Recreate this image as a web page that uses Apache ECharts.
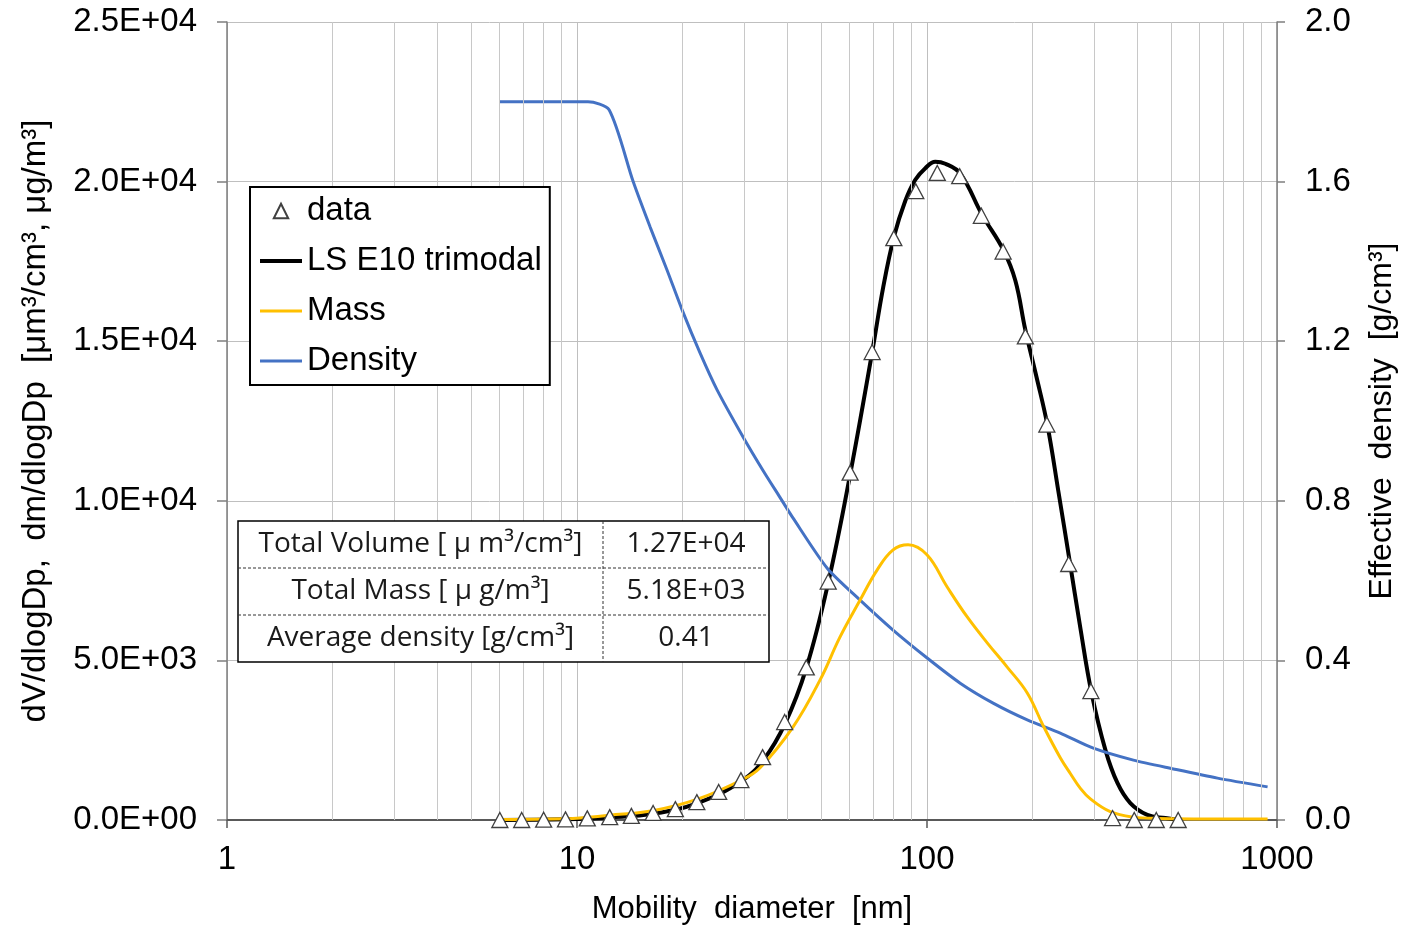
<!DOCTYPE html>
<html>
<head>
<meta charset="utf-8">
<script src="https://cdn.jsdelivr.net/npm/echarts@6/dist/echarts.min.js"></script>
<style>
html,body{margin:0;padding:0;background:#fff;}
#chart{width:1404px;height:925px;}
</style>
</head>
<body>
<div id="chart"></div>
<script>
// ---- Data ----
const dataD = [6.02, 6.95, 8.03, 9.27, 10.7, 12.4, 14.3, 16.5, 19.1, 22.0, 25.4, 29.4, 33.9, 39.2, 45.2, 52.2, 60.3, 69.7, 80.4, 92.9, 107, 124, 143, 165, 191, 220, 254, 294, 339, 391, 452, 522];
const dataV = [0, 0, 10, 20, 50, 90, 130, 220, 340, 560, 880, 1250, 1970, 3070, 4780, 7470, 10880, 14660, 18230, 19700, 20270, 20170, 18930, 17810, 15150, 12390, 8020, 4040, 60, 0, 0, 0];

const fitD = [6.02, 9.30, 12.4, 16.6, 22.2, 29.6, 34.2, 39.3, 45.2, 52.2, 60.3, 69.7, 75.0, 80.6, 86.7, 92.5, 98.9, 105.6, 112.8, 124.5, 143.9, 165.2, 178.8, 191, 205.3, 220.8, 237.3, 255.3, 274.4, 295, 323.5, 350, 381, 426, 480, 530];
const fitV = [0, 20, 80, 200, 540, 1230, 1900, 3020, 4760, 7430, 10820, 14650, 16700, 18300, 19400, 20050, 20420, 20620, 20560, 20250, 18950, 17860, 16900, 15350, 13900, 12370, 10300, 8150, 6000, 4000, 2190, 1160, 530, 160, 60, 0];

const massD = [6.02, 9.30, 12.4, 16.6, 22.2, 29.6, 33.3, 41.4, 49.5, 56.4, 64.4, 72.0, 80.0, 88.3, 100.1, 114.2, 130.3, 148.6, 169.5, 193.4, 214.9, 240.3, 257, 274, 293, 334, 389, 456, 940];
const massV = [15, 40, 150, 300, 660, 1260, 1630, 2910, 4390, 5730, 6890, 7830, 8460, 8620, 8300, 7300, 6360, 5550, 4790, 3980, 2950, 1950, 1450, 1000, 660, 260, 90, 50, 30];

const densD = [6.02, 10.75, 12.35, 14.47, 16.18, 18.09, 19.98, 22.48, 25.13, 29.82, 34.0, 38.05, 41.4, 51.87, 64.4, 80.0, 100.1, 124.4, 154.5, 193.4, 240.3, 298.8, 388.8, 506, 676, 940];
const densV = [1.80, 1.80, 1.78, 1.60, 1.486, 1.378, 1.278, 1.170, 1.078, 0.960, 0.876, 0.808, 0.757, 0.631, 0.551, 0.476, 0.406, 0.343, 0.293, 0.251, 0.218, 0.180, 0.150, 0.128, 0.105, 0.083];

const xTickLabels = ['1', '10', '100', '1000'];
const leftTickLabels = ['0.0E+00', '5.0E+03', '1.0E+04', '1.5E+04', '2.0E+04', '2.5E+04'];
const rightTickLabels = ['0.0', '0.4', '0.8', '1.2', '1.6', '2.0'];
const minorX = [2, 3, 4, 5, 6, 7, 8, 9, 20, 30, 40, 50, 60, 70, 80, 90, 200, 300, 400, 500, 600, 700, 800, 900];

const tableRows = [
  ['Total Volume [ μ m³/cm³]', '1.27E+04'],
  ['Total Mass [ μ g/m³]', '5.18E+03'],
  ['Average density [g/cm³]', '0.41']
];

// ---- Chart ----
const zip = (a, b) => a.map((v, i) => [v, b[i]]);
const FONT = 'Liberation Sans';
const chart = echarts.init(document.getElementById('chart'), null, {renderer: 'canvas'});

// table graphic
const tX = 238, tY = 521, tW = 531, tH = 141, tSplit = 603;
const rowH = tH / 3;
const TFONT = '28px "Open Sans"';
const tableEls = [
  {type: 'rect', shape: {x: tX, y: tY, width: tW, height: tH}, style: {fill: '#fff', stroke: '#000', lineWidth: 1.5}},
  {type: 'line', shape: {x1: tSplit, y1: tY, x2: tSplit, y2: tY + tH}, style: {stroke: '#333', lineWidth: 1, lineDash: [3, 2]}},
  {type: 'line', shape: {x1: tX, y1: tY + rowH, x2: tX + tW, y2: tY + rowH}, style: {stroke: '#333', lineWidth: 1, lineDash: [3, 2]}},
  {type: 'line', shape: {x1: tX, y1: tY + 2 * rowH, x2: tX + tW, y2: tY + 2 * rowH}, style: {stroke: '#333', lineWidth: 1, lineDash: [3, 2]}}
];
tableRows.forEach((r, i) => {
  const cy = tY + rowH * (i + 0.5);
  tableEls.push({type: 'text', x: (tX + tSplit) / 2, y: cy, style: {text: r[0], font: TFONT, fill: '#1a1a1a', align: 'center', verticalAlign: 'middle'}});
  tableEls.push({type: 'text', x: (tSplit + tX + tW) / 2, y: cy, style: {text: r[1], font: TFONT, fill: '#1a1a1a', align: 'center', verticalAlign: 'middle'}});
});

const option = {
  animation: false,
  backgroundColor: '#fff',
  grid: {left: 227, right: 127, top: 22, bottom: 105, containLabel: false, outerBoundsMode: 'none'},
  legend: {
    orient: 'vertical',
    left: 250, top: 187,
    padding: [4, 8, 4, 8],
    itemWidth: 42, itemHeight: 18, itemGap: 10,
    backgroundColor: '#fff',
    borderColor: '#000', borderWidth: 2,
    textStyle: {fontFamily: FONT, fontSize: 33, color: '#000', lineHeight: 40},
    data: [
      {name: 'data'},
      {name: 'LS E10 trimodal', itemStyle: {opacity: 0}, lineStyle: {width: 4}},
      {name: 'Mass', itemStyle: {opacity: 0}, lineStyle: {width: 3}},
      {name: 'Density', itemStyle: {opacity: 0}, lineStyle: {width: 3}}
    ],
    z: 20
  },
  xAxis: {
    type: 'log', logBase: 10, min: 1, max: 1000,
    name: 'Mobility  diameter  [nm]',
    nameLocation: 'middle', nameGap: 74,
    nameTextStyle: {fontFamily: FONT, fontSize: 31, color: '#000'},
    axisLine: {show: true, lineStyle: {color: '#595959', width: 2}},
    axisTick: {show: true, inside: false, length: 8, lineStyle: {color: '#595959', width: 1.5}},
    minorTick: {show: false},
    axisLabel: {fontFamily: FONT, fontSize: 33, color: '#000', margin: 23,
      formatter: v => xTickLabels[Math.round(Math.log10(v))]},
    splitLine: {show: true, lineStyle: {color: '#bfbfbf', width: 1}}
  },
  yAxis: [
    {
      type: 'value', min: 0, max: 25000, interval: 5000, position: 'left',
      name: 'dV/dlogDp,  dm/dlogDp  [μm³/cm³, μg/m³]',
      nameLocation: 'middle', nameGap: 175,
      nameTextStyle: {fontFamily: FONT, fontSize: 33, color: '#000'},
      axisLine: {show: true, lineStyle: {color: '#7f7f7f', width: 1.5}},
      axisTick: {show: true, length: 10, lineStyle: {color: '#7f7f7f', width: 1.5}},
      axisLabel: {fontFamily: FONT, fontSize: 33, color: '#000', margin: 30,
        formatter: v => leftTickLabels[Math.round(v / 5000)]},
      splitLine: {show: true, lineStyle: {color: '#bfbfbf', width: 1}}
    },
    {
      type: 'value', min: 0, max: 2, interval: 0.4, position: 'right',
      name: 'Effective  density  [g/cm³]',
      nameLocation: 'middle', nameGap: 89,
      nameTextStyle: {fontFamily: FONT, fontSize: 32, color: '#000'},
      axisLine: {show: true, lineStyle: {color: '#7f7f7f', width: 1.5}},
      axisTick: {show: true, length: 8, lineStyle: {color: '#7f7f7f', width: 1.5}},
      axisLabel: {fontFamily: FONT, fontSize: 33, color: '#000', margin: 28,
        formatter: v => rightTickLabels[Math.round(v / 0.4)]},
      splitLine: {show: false}
    }
  ],
  graphic: {elements: tableEls.map(e => Object.assign({z: 50, silent: true}, e))},
  series: [
    {
      name: 'minor-grid', type: 'line', data: [], z: 0, silent: true,
      markLine: {
        silent: true, symbol: ['none', 'none'], animation: false,
        label: {show: false},
        lineStyle: {color: '#c8c8c8', width: 1, type: 'solid'},
        emphasis: {disabled: true},
        data: minorX.map(v => ({xAxis: v}))
      }
    },
    {
      name: 'LS E10 trimodal', type: 'line', yAxisIndex: 0, z: 3,
      data: zip(fitD, fitV), symbol: 'none', smooth: 0.4,
      lineStyle: {color: '#000', width: 4}, itemStyle: {color: '#000'}
    },
    {
      name: 'Density', type: 'line', yAxisIndex: 1, z: 4,
      data: zip(densD, densV), symbol: 'none', smooth: 0.25,
      lineStyle: {color: '#4472c4', width: 3}, itemStyle: {color: '#4472c4'}
    },
    {
      name: 'Mass', type: 'line', yAxisIndex: 0, z: 5,
      data: zip(massD, massV), symbol: 'none', smooth: 0.4,
      lineStyle: {color: '#ffc000', width: 3}, itemStyle: {color: '#ffc000'}
    },
    {
      name: 'data', type: 'line', yAxisIndex: 0, z: 6,
      data: zip(dataD, dataV), symbol: 'triangle', symbolSize: [16, 15],
      showSymbol: true, showAllSymbol: true,
      lineStyle: {width: 0, opacity: 0},
      itemStyle: {color: '#fff', borderColor: '#404040', borderWidth: 1.3, opacity: 1}
    }
  ]
};
chart.setOption(option);
</script>
</body>
</html>
